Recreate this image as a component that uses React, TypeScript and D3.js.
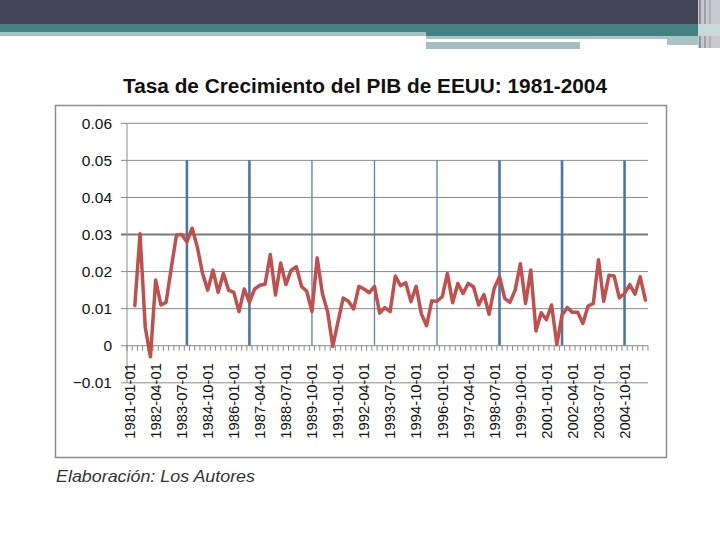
import React from "react";
import * as d3 from "d3";

// quarterly categories 1981-01 .. 2005-10
const years = d3.range(1981, 2006);
const months = ["01", "04", "07", "10"];
const quarters: string[] = years.flatMap((y) => months.map((m) => `${y}-${m}`));

// growth rate of US GDP (first quarter has no value)
const growth: (number | null)[] = [
  null,
  0.0108, 0.0302, 0.005, -0.003, 0.0177, 0.011, 0.0117, 0.021, 0.0299, 0.03,
  0.028, 0.0317, 0.0266, 0.0195, 0.015, 0.0204, 0.0144, 0.0195, 0.015, 0.0144,
  0.0092, 0.0153, 0.0117, 0.0153, 0.0163, 0.0166, 0.0246, 0.0137, 0.0223, 0.0165,
  0.0204, 0.0213, 0.016, 0.0147, 0.0092, 0.0237, 0.0141, 0.0092, -0.0002, 0.0065,
  0.0129, 0.012, 0.0099, 0.016, 0.0153, 0.0143, 0.016, 0.0088, 0.0103, 0.0092,
  0.0188, 0.0162, 0.017, 0.0119, 0.016, 0.0086, 0.0054, 0.0121, 0.012, 0.0132,
  0.0195, 0.0116, 0.0168, 0.0141, 0.0168, 0.0159, 0.011, 0.0138, 0.0085, 0.0156,
  0.0186, 0.0128, 0.0117, 0.015, 0.0221, 0.0114, 0.0204, 0.004, 0.0089, 0.007,
  0.011, 0.0003, 0.0083, 0.0103, 0.009, 0.009, 0.006, 0.0107, 0.0114, 0.0232,
  0.012, 0.019, 0.0188, 0.0129, 0.0141, 0.0165, 0.0139, 0.0186, 0.0123,
];

// vertical marker bars (value 0.05)
const markerQuarters = ["1983-10", "1986-10", "1989-10", "1992-10", "1995-10", "1998-10", "2001-10", "2004-10"];
const markerValue = 0.05;

const tickLabels = [
  "1981-01-01", "1982-04-01", "1983-07-01", "1984-10-01", "1986-01-01",
  "1987-04-01", "1988-07-01", "1989-10-01", "1991-01-01", "1992-04-01",
  "1993-07-01", "1994-10-01", "1996-01-01", "1997-04-01", "1998-07-01",
  "1999-10-01", "2001-01-01", "2002-04-01", "2003-07-01", "2004-10-01",
];
const yTicks = [0.06, 0.05, 0.04, 0.03, 0.02, 0.01, 0, -0.01];

const title = "Tasa de Crecimiento del PIB de EEUU: 1981-2004";
const source = "Elaboración: Los Autores";

const font = "'Liberation Sans', Arial, sans-serif";

const App: React.FC = () => {
  const left = 127;
  const right = 648;
  const top = 123.3;
  const bottom = 382.8;

  const x = d3.scaleBand<string>().domain(quarters).range([left, right]).padding(0);
  const y = d3.scaleLinear().domain([-0.01, 0.06]).range([bottom, top]);
  const cx = (q: string) => (x(q) ?? 0) + x.bandwidth() / 2;

  const line = d3
    .line<number | null>()
    .defined((d) => d != null)
    .x((_, i) => cx(quarters[i]))
    .y((d) => y(d as number));

  const thin = new Set(["1989-10", "1992-10", "1995-10"]);
  const y0 = y(0);

  return (
    <div style={{ position: "absolute", left: 0, top: 0 }}>
      <svg width={720} height={540} style={{ display: "block", background: "#fff" }}>
        {/* slide header */}
        <rect x={0} y={0} width={698} height={24} fill="#434456" />
        <rect x={0} y={24} width={698} height={8} fill="#44807f" />
        <rect x={426} y={32} width={272} height={4} fill="#44807f" />
        <rect x={0} y={32} width={426} height={4} fill="#a4c2c5" />
        <rect x={426} y={36} width={241} height={3} fill="#a8c4c7" />
        <rect x={426} y={42} width={154} height={7} fill="#a4bfc2" />
        <rect x={667} y={36} width={31} height={9} fill="#a9c4c6" />
        <rect x={698} y={0} width={22} height={48} fill="#c8c8d0" />
        <rect x={699} y={0} width={2} height={48} fill="#8e8e9c" />
        <rect x={704} y={0} width={2} height={48} fill="#a0a0ac" />
        <rect x={709} y={0} width={2} height={48} fill="#b0b0ba" />
        <rect x={698} y={24} width={22} height={12} fill="#c9d8d9" />

        {/* title */}
        <text
          x={365}
          y={93}
          textAnchor="middle"
          fontFamily={font}
          fontWeight="bold"
          fontSize={20}
          textLength={484}
          lengthAdjust="spacingAndGlyphs"
          fill="#111"
        >
          {title}
        </text>

        {/* chart frame */}
        <rect x={55.5} y={105.5} width={611} height={352} fill="none" stroke="#8c8c8c" strokeWidth={1.5} />

        {/* horizontal gridlines */}
        {yTicks
          .filter((t) => t !== 0)
          .map((t) => (
            <line
              key={t}
              x1={121}
              x2={right}
              y1={y(t)}
              y2={y(t)}
              stroke={t === 0.03 ? "#7a7a7a" : "#8a8a8a"}
              strokeWidth={t === 0.03 ? 2 : 1}
            />
          ))}

        {/* y axis */}
        <line x1={left} x2={left} y1={top} y2={bottom} stroke="#8a8a8a" strokeWidth={1} />

        {/* marker bars */}
        {markerQuarters.map((q) => (
          <line
            key={q}
            x1={cx(q)}
            x2={cx(q)}
            y1={y(markerValue)}
            y2={y0}
            stroke={thin.has(q) ? "#5b7fa3" : "#4a76a8"}
            strokeWidth={thin.has(q) ? 1.3 : 2.6}
          />
        ))}

        {/* category axis at 0 */}
        <line x1={121} x2={right} y1={y0} y2={y0} stroke="#8a8a8a" strokeWidth={1} />
        {d3.range(quarters.length + 1).map((i) => {
          const tx = left + i * x.bandwidth();
          return <line key={i} x1={tx} x2={tx} y1={y0} y2={y0 + 5} stroke="#8a8a8a" strokeWidth={1} />;
        })}

        {/* y tick labels */}
        {yTicks.map((t) => (
          <text
            key={t}
            x={112}
            y={y(t)}
            dy="0.36em"
            textAnchor="end"
            fontFamily={font}
            fontSize={15.5}
            fill="#111"
          >
            {t === 0 ? "0" : d3.format(".2f")(t)}
          </text>
        ))}

        {/* x tick labels */}
        {tickLabels.map((lbl) => {
          const q = lbl.slice(0, 7);
          const lx = cx(q);
          return (
            <text
              key={lbl}
              transform={`translate(${lx},363) rotate(-90)`}
              dy="0.36em"
              textAnchor="end"
              fontFamily={font}
              fontSize={14.8}
              fill="#111"
            >
              {lbl}
            </text>
          );
        })}

        {/* growth line */}
        <path
          d={line(growth) ?? ""}
          fill="none"
          stroke="#c0504d"
          strokeWidth={3.5}
          strokeLinejoin="round"
          strokeLinecap="round"
        />

        {/* source note */}
        <text
          x={56}
          y={482}
          fontFamily={font}
          fontStyle="italic"
          fontSize={17}
          textLength={199}
          lengthAdjust="spacingAndGlyphs"
          fill="#333"
        >
          {source}
        </text>
      </svg>
    </div>
  );
};

export default App;
